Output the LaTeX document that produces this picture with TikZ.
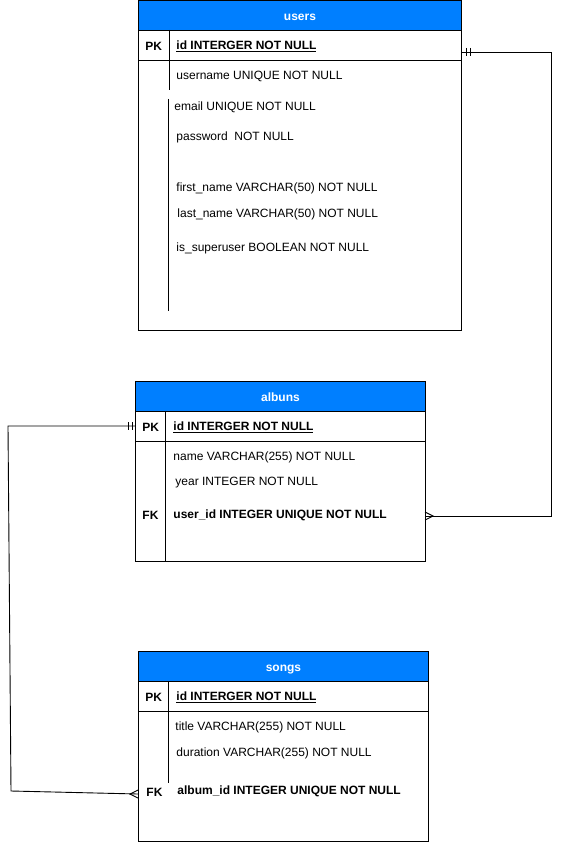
\documentclass[tikz,border=0pt]{standalone}
\usepackage{fontspec}
\setmainfont{Liberation Sans}
\definecolor{headblue}{HTML}{007FFF}
\tikzset{tbl head/.style={fill=headblue,draw=black,text=white,font=\bfseries\fontsize{12}{14}\selectfont,minimum height=30pt,inner sep=0pt,anchor=north west,text height=11pt,text depth=0pt},
fld/.style={anchor=west,inner sep=0pt,yshift=-1.5pt,font=\fontsize{12}{14}\selectfont},
key fld/.style={fld,font=\bfseries\fontsize{12}{14}\selectfont},
}

\begin{document}
\begin{tikzpicture}[x=1pt,y=-1pt,line width=0.9pt]
\useasboundingbox (0,0) rectangle (562,842);

%% users
\draw (138,0) rectangle (461,330);
\node[tbl head,minimum width=323pt] (users) at (138,0) {users};
\draw (138,60) -- (461,60);
\draw (169,30) -- (169,90);
\draw (168,99) -- (168,311);
\node[key fld] (users-pk) at (145,45) {PK};
\node[key fld] (users-id) at (176,45) {\underline{id INTERGER NOT NULL}};
\node[fld] (users-uname) at (176,75) {username UNIQUE NOT NULL};
\node[fld] (users-email) at (174,106) {email UNIQUE NOT NULL};
\node[fld] (users-pwd) at (176,136) {password\ \ NOT NULL};
\node[fld] (users-first) at (176,187) {first\_name VARCHAR(50) NOT NULL};
\node[fld] (users-last) at (177,213) {last\_name VARCHAR(50) NOT NULL};
\node[fld] (users-super) at (176,247) {is\_superuser BOOLEAN NOT NULL};

%% albuns
\draw (135,381) rectangle (425,561);
\node[tbl head,minimum width=290pt] (albuns) at (135,381) {albuns};
\draw (135,441) -- (425,441);
\draw (165,411) -- (165,561);
\node[key fld] (albuns-pk) at (142,426) {PK};
\node[key fld] (albuns-id) at (173,426) {\underline{id INTERGER NOT NULL}};
\node[fld] (albuns-name) at (173,456) {name VARCHAR(255) NOT NULL};
\node[fld] (albuns-year) at (175,481) {year INTEGER NOT NULL};
\node[key fld] (albuns-fk) at (142,514) {FK};
\node[key fld] (albuns-uid) at (173,514) {user\_id INTEGER UNIQUE NOT NULL};

%% songs
\draw (138,651) rectangle (428,841);
\node[tbl head,minimum width=290pt] (songs) at (138,651) {songs};
\draw (138,711) -- (428,711);
\draw (168,681) -- (168,783);
\node[key fld] (songs-pk) at (145,696) {PK};
\node[key fld] (songs-id) at (176,696) {\underline{id INTERGER NOT NULL}};
\node[fld] (songs-title) at (175,726) {title VARCHAR(255) NOT NULL};
\node[fld] (songs-dur) at (176,752) {duration VARCHAR(255) NOT NULL};
\node[key fld] (songs-fk) at (146,791) {FK};
\node[key fld] (songs-aid) at (177,790) {album\_id INTEGER UNIQUE NOT NULL};

%% relations
\coordinate (usr-end) at (461,52);
\coordinate (alb-end) at (425,516);
\coordinate (albpk-end) at (135,426);
\coordinate (sng-end) at (138,794);

\draw (usr-end) -- ++(90,0) |- (alb-end);
\draw (usr-end) ++(5,-4) -- ++(0,8);
\draw (usr-end) ++(9,-4) -- ++(0,8);
\draw (alb-end) ++(0,-4) -- ++(8,4) -- ++(-8,4);

\draw (albpk-end) -- (8,426) -- (11,791) -- (sng-end);
\draw (albpk-end) ++(-3,-4) -- ++(0,8);
\draw (albpk-end) ++(-7,-4) -- ++(0,8);
\draw (sng-end) ++(0,-4) -- ++(-8,4) -- ++(8,4);
\end{tikzpicture}
\end{document}
